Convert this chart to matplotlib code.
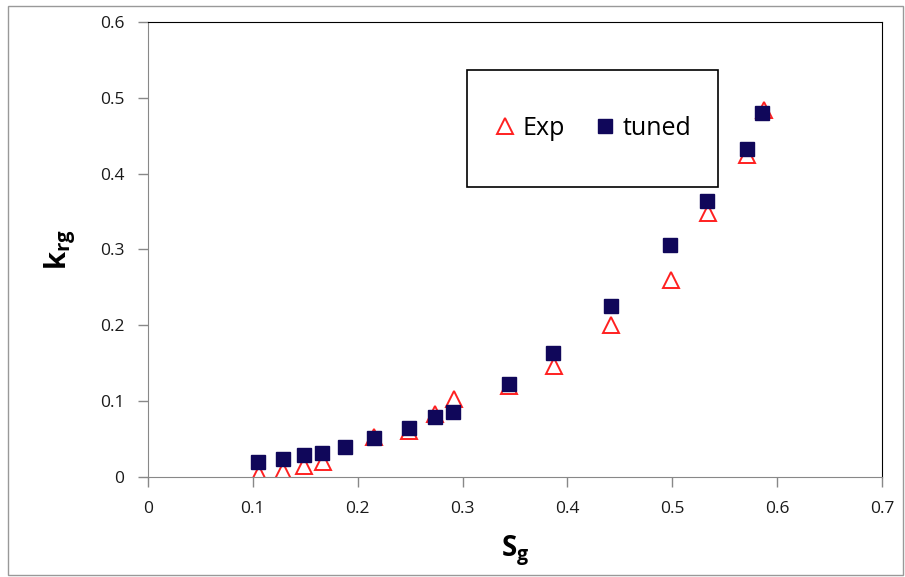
import matplotlib.pyplot as plt
from matplotlib.patches import Rectangle
import numpy as np

plt.rcParams['font.family'] = 'Open Sans'
plt.rcParams['mathtext.fontset'] = 'custom'
plt.rcParams['mathtext.rm'] = 'Open Sans'
plt.rcParams['mathtext.bf'] = 'Open Sans:bold'

# measured gas relative permeability
sg_exp = [0.106, 0.129, 0.149, 0.167, 0.216, 0.249, 0.274, 0.292, 0.344, 0.387,
          0.442, 0.499, 0.534, 0.571, 0.587]
krg_exp = [0.004, 0.008, 0.015, 0.020, 0.053, 0.061, 0.083, 0.103, 0.120, 0.146,
           0.200, 0.260, 0.348, 0.425, 0.484]

# tuned model
sg_tuned = [0.105, 0.129, 0.149, 0.166, 0.188, 0.216, 0.249, 0.274, 0.291, 0.344,
            0.386, 0.442, 0.498, 0.533, 0.571, 0.586]
krg_tuned = [0.020, 0.024, 0.029, 0.032, 0.040, 0.051, 0.065, 0.079, 0.086, 0.122,
             0.163, 0.225, 0.306, 0.364, 0.432, 0.480]

xticks = np.arange(0, 0.71, 0.1)
yticks = np.arange(0, 0.61, 0.1)

fig = plt.figure(figsize=(9.05, 5.77), dpi=100)
ax = fig.add_axes([0.1635, 0.1733, 0.8111, 0.7886])

ax.plot(sg_exp, krg_exp, ls='none', marker='^', ms=12, mfc='none',
        mec='#ff2020', mew=1.4, label='Exp')
ax.plot(sg_tuned, krg_tuned, ls='none', marker='s', ms=10, mfc='#10075a',
        mec='#10075a', label='tuned')

ax.set_xlim(0, 0.7)
ax.set_ylim(0, 0.6)
ax.set_xticks(xticks, ['0' if v == 0 else '%.1f' % v for v in xticks])
ax.set_yticks(yticks, ['0' if v == 0 else '%.1f' % v for v in yticks])
ax.tick_params(direction='out', length=7, width=1, color='#888888',
               labelsize=12.5, labelcolor='#1a1a1a', pad=10)

for s in ['left', 'bottom']:
    ax.spines[s].set_color('#888888')
for s in ['top', 'right']:
    ax.spines[s].set_color('black')

ax.set_xlabel(r'$\mathbf{S_g}$', fontsize=20, labelpad=12)
ax.set_ylabel(r'$\mathbf{k_{rg}}$', fontsize=21, labelpad=16)

# legend with a fixed box
ax.add_patch(Rectangle((0.4346, 0.637), 0.342, 0.2575, transform=ax.transAxes,
                       fill=False, ec='black', lw=1.2, zorder=5))
ax.legend(loc='center', bbox_to_anchor=(0.603, 0.767), ncol=2, frameon=False,
          fontsize=18, handletextpad=0.1, columnspacing=1.0, handlelength=1.2)

fig.patches.append(Rectangle((0.009, 0.004), 0.989, 0.986, transform=fig.transFigure,
                             fill=False, ec='#999999', lw=1))

fig.savefig('out.png', dpi=100)
